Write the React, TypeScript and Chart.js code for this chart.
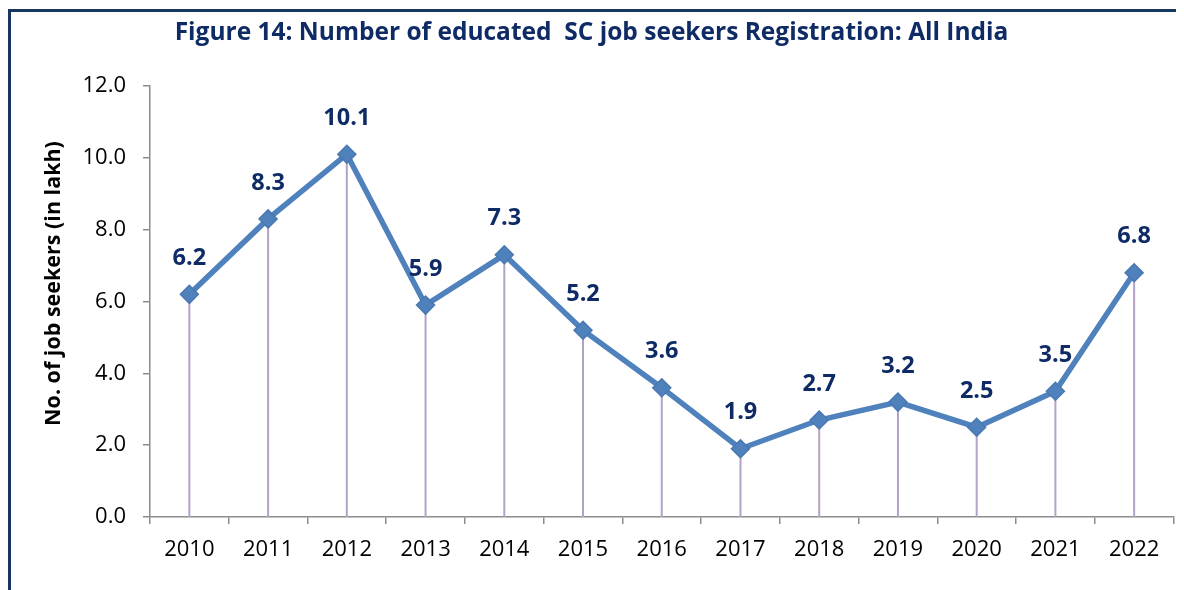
import React, { useEffect, useRef } from "react";
import { Chart, registerables } from "chart.js";

Chart.register(...registerables);

const years = ["2010", "2011", "2012", "2013", "2014", "2015", "2016", "2017", "2018", "2019", "2020", "2021", "2022"];
const seekers = [6.2, 8.3, 10.1, 5.9, 7.3, 5.2, 3.6, 1.9, 2.7, 3.2, 2.5, 3.5, 6.8];
const titleText = "Figure 14: Number of educated  SC job seekers Registration: All India";
const yTitle = "No. of job seekers (in lakh)";

const FONT = "'Open Sans', 'Noto Sans', sans-serif";
const NAVY = "#0f2b66";

const dropLines = {
  id: "dropLines",
  beforeDatasetsDraw(chart: any) {
    const meta = chart.getDatasetMeta(0);
    const bottom = chart.chartArea.bottom;
    const ctx = chart.ctx;
    ctx.save();
    ctx.strokeStyle = "#b3a2c7";
    ctx.lineWidth = 2;
    meta.data.forEach((pt: any) => {
      ctx.beginPath();
      ctx.moveTo(pt.x, pt.y);
      ctx.lineTo(pt.x, bottom);
      ctx.stroke();
    });
    ctx.restore();
  },
};

const valueLabels = {
  id: "valueLabels",
  afterDatasetsDraw(chart: any) {
    const meta = chart.getDatasetMeta(0);
    const data = chart.data.datasets[0].data as number[];
    const ctx = chart.ctx;
    ctx.save();
    ctx.fillStyle = NAVY;
    ctx.font = `bold 23.5px ${FONT}`;
    ctx.textAlign = "center";
    ctx.textBaseline = "middle";
    meta.data.forEach((pt: any, i: number) => {
      ctx.fillText(data[i].toFixed(1), pt.x, pt.y - 36);
    });
    ctx.restore();
  },
};

const yAxisTitle = {
  id: "yAxisTitle",
  afterDraw(chart: any) {
    const ctx = chart.ctx;
    const area = chart.chartArea;
    ctx.save();
    ctx.translate(46, (area.top + area.bottom) / 2 - 18);
    ctx.rotate(-Math.PI / 2);
    ctx.fillStyle = "#000";
    ctx.font = `bold 21.5px ${FONT}`;
    ctx.textAlign = "center";
    ctx.textBaseline = "middle";
    ctx.fillText(yTitle, 0, 0);
    ctx.restore();
  },
};

export default function App() {
  const ref = useRef<HTMLCanvasElement>(null);
  useEffect(() => {
    const chart = new Chart(ref.current!, {
      type: "line",
      data: {
        labels: years,
        datasets: [
          {
            data: seekers,
            borderColor: "#4f81bd",
            backgroundColor: "#4f81bd",
            borderWidth: 5.5,
            pointStyle: "rectRot",
            pointRadius: 9,
            pointBorderWidth: 1.5,
            pointBorderColor: "#4a78b0",
            pointBackgroundColor: "#4f81bd",
            tension: 0,
          },
        ],
      },
      options: {
        animation: false,
        responsive: false,
        layout: { padding: { left: 0, right: 9, top: 0, bottom: 0 } },
        plugins: {
          legend: { display: false },
          tooltip: { enabled: false },
          title: {
            display: true,
            text: titleText,
            color: NAVY,
            font: { family: FONT, size: 24.5, weight: "bold", lineHeight: 1.2 },
            padding: { top: 10.3, bottom: 38.3 },
          },
        },
        scales: {
          x: {
            offset: true,
            grid: {
              offset: true,
              drawOnChartArea: false,
              drawTicks: true,
              tickLength: 7,
              color: "#8c8c8c",
              lineWidth: 1.5,
            },
            border: { color: "#8c8c8c", width: 1.5 },
            ticks: {
              color: "#000",
              font: { family: FONT, size: 22 },
              padding: 13,
              maxRotation: 0,
            },
            afterFit(scale: any) {
              scale.height = 73;
            },
          },
          y: {
            min: 0,
            max: 12,
            grid: {
              drawOnChartArea: false,
              drawTicks: true,
              tickLength: 7,
              color: "#8c8c8c",
              lineWidth: 1.5,
            },
            border: { color: "#8c8c8c", width: 1.5 },
            ticks: {
              stepSize: 2,
              color: "#000",
              font: { family: FONT, size: 22 },
              padding: 17,
              callback: (v: any) => Number(v).toFixed(1),
            },
            afterFit(scale: any) {
              scale.width = 142;
            },
          },
        },
      },
      plugins: [dropLines, valueLabels, yAxisTitle],
    });
    return () => chart.destroy();
  }, []);

  return (
    <div style={{ position: "relative", width: 1176, height: 582 }}>
      <div
        style={{
          position: "absolute",
          left: 0,
          top: 1,
          right: 0,
          bottom: 0,
          borderTop: "3px solid #17375e",
          borderLeft: "3px solid #17375e",
        }}
      />
      <canvas
        ref={ref}
        width={1176}
        height={582}
        style={{ position: "absolute", left: 0, top: 0, width: 1176, height: 582 }}
      />
    </div>
  );
}
